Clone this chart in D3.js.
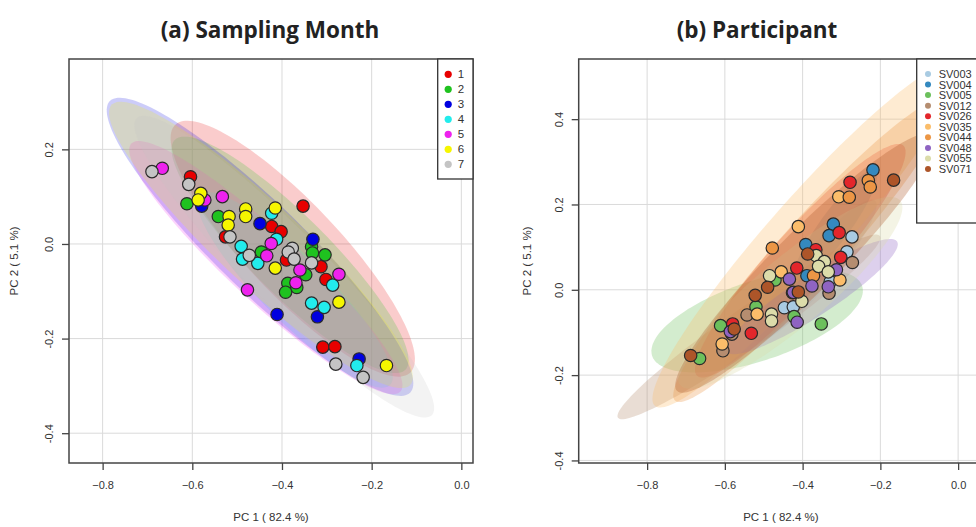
<!DOCTYPE html>
<html>
<head>
<meta charset="utf-8">
<script src="https://cdn.jsdelivr.net/npm/d3@7"></script>
<style>
  body { margin: 0; background: #fff; }
  text { font-family: "Liberation Sans", Arial, sans-serif; fill: #333; }
  .title { font-family: "Open Sans", sans-serif; font-weight: 700; fill: #222; }
</style>
</head>
<body>
<svg id="chart" width="976" height="527"></svg>
<script>
// ---- (a) sampling month ----
const monthLabels = ["1", "2", "3", "4", "5", "6", "7"];
const monthColors = ["#e80000", "#1fc21f", "#0000e0", "#22ecec", "#ee22ee", "#f6f600", "#c4c4c4"];
const monthPC1 = [
  [-0.604, -0.353, -0.423, -0.402, -0.526, -0.390, -0.313, -0.302, -0.309, -0.282],
  [-0.612, -0.542, -0.446, -0.334, -0.332, -0.304, -0.347, -0.387, -0.367, -0.392],
  [-0.579, -0.449, -0.331, -0.321, -0.411, -0.228],
  [-0.423, -0.412, -0.491, -0.488, -0.454, -0.287, -0.334, -0.306, -0.233],
  [-0.667, -0.572, -0.533, -0.424, -0.434, -0.360, -0.369, -0.273, -0.477],
  [-0.581, -0.587, -0.518, -0.520, -0.481, -0.481, -0.415, -0.415, -0.273, -0.167],
  [-0.690, -0.608, -0.516, -0.473, -0.377, -0.386, -0.373, -0.334, -0.280, -0.219]
];
const monthPC2 = [
  [0.142, 0.080, 0.037, 0.026, 0.015, -0.034, -0.048, -0.075, -0.218, -0.217],
  [0.085, 0.058, -0.017, -0.006, -0.019, -0.023, -0.065, -0.083, -0.092, -0.102],
  [0.080, 0.043, 0.010, -0.154, -0.149, -0.243],
  [0.065, 0.010, -0.005, -0.032, -0.041, -0.087, -0.125, -0.134, -0.257],
  [0.160, 0.093, 0.100, 0.001, -0.025, -0.055, -0.082, -0.064, -0.097],
  [0.107, 0.093, 0.058, 0.040, 0.074, 0.058, 0.076, -0.051, -0.123, -0.257],
  [0.153, 0.126, 0.015, -0.024, -0.009, -0.017, -0.032, -0.040, -0.254, -0.282]
];
// ellipse: centre pc1, centre pc2, major half-axis (pc1, pc2), minor/major ratio
const monthEllipses = [
  [-0.376, -0.010, 0.262, -0.262, 0.27],
  [-0.382, -0.023, 0.257, -0.243, 0.24],
  [-0.449, -0.006, 0.335, -0.308, 0.21],
  [-0.371, -0.097, 0.212, -0.201, 0.24],
  [-0.436, -0.050, 0.300, -0.262, 0.19],
  [-0.447, -0.002, 0.333, -0.296, 0.20],
  [-0.395, -0.048, 0.329, -0.314, 0.18]
];

// ---- (b) participant ----
const partLabels = ["SV003", "SV004", "SV005", "SV012", "SV026", "SV035", "SV044", "SV048", "SV055", "SV071"];
const partColors = ["#a9cbe2", "#3489bf", "#6cc05c", "#b58d70", "#e3262b", "#fbbd6a", "#ec9645", "#8f64c2", "#dcdcaa", "#ad5529"];
const partPC1 = [
  [-0.273, -0.286, -0.447, -0.424, -0.329],
  [-0.219, -0.321, -0.332, -0.392, -0.389],
  [-0.471, -0.520, -0.422, -0.352, -0.611, -0.665],
  [-0.272, -0.332, -0.543, -0.582, -0.605, -0.426],
  [-0.278, -0.306, -0.366, -0.302, -0.415, -0.580, -0.532],
  [-0.307, -0.411, -0.455, -0.304, -0.517, -0.607],
  [-0.231, -0.226, -0.280, -0.478, -0.372],
  [-0.434, -0.313, -0.376, -0.334, -0.424, -0.414, -0.586],
  [-0.365, -0.344, -0.359, -0.334, -0.485, -0.402, -0.480, -0.480],
  [-0.166, -0.387, -0.490, -0.522, -0.411, -0.576, -0.688]
];
const partPC2 = [
  [0.124, 0.089, -0.042, -0.040, 0.019],
  [0.281, 0.154, 0.127, 0.106, 0.033],
  [0.023, -0.040, -0.063, -0.080, -0.084, -0.161],
  [0.064, -0.008, -0.059, -0.104, -0.143, -0.007],
  [0.252, 0.134, 0.094, 0.076, 0.051, -0.080, -0.102],
  [0.218, 0.148, 0.042, 0.023, -0.057, -0.127],
  [0.256, 0.241, 0.217, 0.098, 0.033],
  [0.025, 0.047, 0.009, 0.007, -0.006, -0.076, -0.098],
  [0.080, 0.066, 0.055, 0.042, 0.033, -0.027, -0.057, -0.073],
  [0.257, 0.084, 0.006, -0.013, -0.005, -0.092, -0.154]
];
const partEllipses = [
  [-0.368, 0.045, 0.154, 0.164, 0.20],
  [-0.316, 0.150, 0.103, 0.129, 0.22],
  [-0.517, -0.073, 0.270, 0.082, 0.36],
  [-0.538, -0.087, 0.337, 0.213, 0.125],
  [-0.406, 0.068, 0.265, 0.270, 0.19],
  [-0.394, 0.127, 0.386, 0.399, 0.16],
  [-0.381, 0.092, 0.347, 0.352, 0.15],
  [-0.376, -0.016, 0.219, 0.129, 0.20],
  [-0.432, -0.007, 0.283, 0.216, 0.24],
  [-0.394, 0.063, 0.329, 0.300, 0.17]
];

const xTicks = [-0.8, -0.6, -0.4, -0.2, 0.0];
const yTicksA = [0.2, 0.0, -0.2, -0.4];
const yTicksB = [0.4, 0.2, 0.0, -0.2, -0.4];

const svg = d3.select("#chart");

function ellipsePath(x, y, e) {
  const cx = x(e[0]), cy = y(e[1]);
  const ax = x(e[0] + e[2]) - cx, ay = y(e[1] + e[3]) - cy;
  const bx = -ay * e[4], by = ax * e[4];
  const pts = d3.range(0, 2 * Math.PI, 0.04).map(function (t) {
    return [cx + ax * Math.cos(t) + bx * Math.sin(t), cy + ay * Math.cos(t) + by * Math.sin(t)];
  });
  return d3.line().curve(d3.curveLinearClosed)(pts);
}

function drawPanel(cfg) {
  const x = d3.scaleLinear().domain(cfg.xDomain).range([cfg.left, cfg.left + cfg.width]);
  const y = d3.scaleLinear().domain(cfg.yDomain).range([cfg.top + cfg.height, cfg.top]);
  const g = svg.append("g");

  g.append("clipPath").attr("id", cfg.id + "clip")
    .append("rect")
    .attr("x", cfg.left).attr("y", cfg.top)
    .attr("width", cfg.width).attr("height", cfg.height);

  // grid
  g.append("g").selectAll("line").data(cfg.xTicks).join("line")
    .attr("x1", d => x(d)).attr("x2", d => x(d))
    .attr("y1", cfg.top).attr("y2", cfg.top + cfg.height)
    .attr("stroke", "#dadada").attr("stroke-width", 1);
  g.append("g").selectAll("line").data(cfg.yTicks).join("line")
    .attr("y1", d => y(d)).attr("y2", d => y(d))
    .attr("x1", cfg.left).attr("x2", cfg.left + cfg.width)
    .attr("stroke", "#dadada").attr("stroke-width", 1);

  // ellipses
  g.append("g").attr("clip-path", `url(#${cfg.id}clip)`)
    .selectAll("path").data(cfg.ellipses).join("path")
    .attr("d", e => ellipsePath(x, y, e))
    .attr("fill", (e, i) => cfg.colors[i])
    .attr("fill-opacity", cfg.ellOpacity);

  // points
  const pts = [];
  cfg.pc1.forEach(function (arr, gi) {
    arr.forEach(function (v, j) {
      pts.push({ x: v, y: cfg.pc2[gi][j], c: cfg.colors[gi] });
    });
  });
  g.append("g").attr("clip-path", `url(#${cfg.id}clip)`)
    .selectAll("circle").data(pts).join("circle")
    .attr("cx", d => x(d.x)).attr("cy", d => y(d.y))
    .attr("r", 6.2)
    .attr("fill", d => d.c)
    .attr("stroke", "#2a2a2a").attr("stroke-width", 1.2);

  // box
  g.append("rect")
    .attr("x", cfg.left).attr("y", cfg.top)
    .attr("width", cfg.width).attr("height", cfg.height)
    .attr("fill", "none").attr("stroke", "#444").attr("stroke-width", 1.5);

  // axes
  const xAxis = g.append("g")
    .attr("transform", `translate(0, ${cfg.top + cfg.height})`)
    .call(d3.axisBottom(x).tickValues(cfg.xTicks).tickSize(7).tickPadding(11).tickFormat(d3.format(".1f")));
  xAxis.select(".domain").remove();
  xAxis.selectAll("line").attr("stroke", "#444").attr("stroke-width", 1.3);
  xAxis.selectAll("text").attr("font-size", 11).attr("fill", "#333")
    .attr("font-family", "Liberation Sans, Arial, sans-serif");

  const yAxis = g.append("g")
    .attr("transform", `translate(${cfg.left}, 0)`)
    .call(d3.axisLeft(y).tickValues(cfg.yTicks).tickSize(7).tickFormat(d3.format(".1f")));
  yAxis.select(".domain").remove();
  yAxis.selectAll("line").attr("stroke", "#444").attr("stroke-width", 1.3);
  yAxis.selectAll("text").remove();
  yAxis.selectAll(".tick").append("text")
    .attr("transform", "translate(-20,0) rotate(-90)")
    .attr("text-anchor", "middle")
    .attr("dy", "0.35em")
    .attr("font-size", 11).attr("fill", "#333")
    .attr("font-family", "Liberation Sans, Arial, sans-serif")
    .text(d => d3.format(".1f")(d).replace("\u2212", "-"));

  // labels
  svg.append("text").attr("class", "title")
    .attr("x", cfg.titleX).attr("y", 38)
    .attr("text-anchor", "middle").attr("font-size", 22.5)
    .text(cfg.title);
  svg.append("text")
    .attr("x", cfg.left + cfg.width / 2).attr("y", 521)
    .attr("text-anchor", "middle").attr("font-size", 11.5)
    .text("PC 1 ( 82.4 %)");
  svg.append("text")
    .attr("transform", `translate(${cfg.left - cfg.yLabOff}, ${cfg.top + cfg.height / 2}) rotate(-90)`)
    .attr("text-anchor", "middle").attr("dy", "0.35em").attr("font-size", 11.5)
    .text("PC 2 ( 5.1 %)");

  // legend
  const lg = g.append("g");
  lg.append("rect")
    .attr("x", cfg.legX).attr("y", cfg.top)
    .attr("width", cfg.legW).attr("height", cfg.legH)
    .attr("fill", "#fff").attr("stroke", "#333").attr("stroke-width", 1.3);
  const items = lg.selectAll("g.item").data(cfg.labels).join("g")
    .attr("class", "item")
    .attr("transform", (d, i) => `translate(${cfg.legX}, ${cfg.top + cfg.legY0 + i * cfg.legStep})`);
  items.append("circle").attr("cx", cfg.legDot).attr("r", cfg.legR)
    .attr("fill", (d, i) => cfg.colors[i]);
  items.append("text").attr("x", cfg.legText).attr("dy", "0.36em")
    .attr("font-size", cfg.legFont).attr("fill", "#222")
    .text(d => d);
}

drawPanel({
  id: "a", title: "(a) Sampling Month", titleX: 270, yLabOff: 55,
  left: 69, top: 59, width: 404, height: 404,
  xDomain: [-0.875, 0.026], yDomain: [-0.463, 0.391],
  xTicks: xTicks, yTicks: yTicksA,
  pc1: monthPC1, pc2: monthPC2, colors: monthColors, labels: monthLabels,
  ellipses: monthEllipses, ellOpacity: 0.2,
  legX: 437.7, legW: 35.3, legH: 120, legY0: 15.3, legStep: 15,
  legDot: 10.5, legR: 3.6, legText: 20, legFont: 11.5
});

drawPanel({
  id: "b", title: "(b) Participant", titleX: 757, yLabOff: 52,
  left: 578.7, top: 59, width: 404.3, height: 404,
  xDomain: [-0.976, 0.064], yDomain: [-0.406, 0.541],
  xTicks: xTicks, yTicks: yTicksB,
  pc1: partPC1, pc2: partPC2, colors: partColors, labels: partLabels,
  ellipses: partEllipses, ellOpacity: 0.3,
  legX: 916.7, legW: 70, legH: 164, legY0: 15, legStep: 10.56,
  legDot: 11.3, legR: 3, legText: 22, legFont: 11
});
</script>
</body>
</html>
